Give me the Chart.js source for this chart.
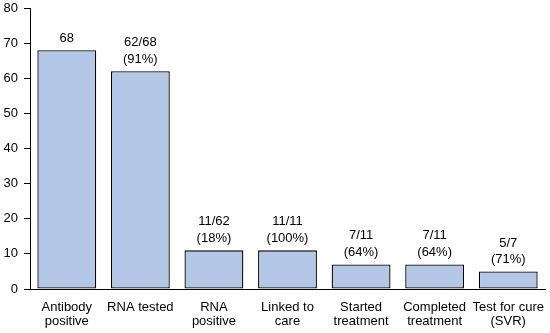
<!DOCTYPE html>
<html lang="en">
<head>
<meta charset="UTF-8">
<title>HCV cascade of care</title>
<style>
  html, body { margin: 0; padding: 0; background: #fff; }
  #wrap { width: 550px; height: 333px; position: relative; }
</style>
</head>
<body>
<div id="wrap"><canvas id="cascadeChart" width="550" height="333"></canvas></div>

<script src="https://cdn.jsdelivr.net/npm/chart.js"></script>
<script>
// data
var categories = [
    ['Antibody', 'positive'],
    'RNA tested',
    ['RNA', 'positive'],
    ['Linked to', 'care'],
    ['Started', 'treatment'],
    ['Completed', 'treatment'],
    ['Test for cure', '(SVR)']
];
var counts = [68, 62, 11, 11, 7, 7, 5];
var barLabels = [
    ['68'],
    ['62/68', '(91%)'],
    ['11/62', '(18%)'],
    ['11/11', '(100%)'],
    ['7/11', '(64%)'],
    ['7/11', '(64%)'],
    ['5/7', '(71%)']
];
var yTicks = [0, 10, 20, 30, 40, 50, 60, 70, 80];

var FONT = '"Liberation Sans", Arial, sans-serif';

// write the n/N (%) labels above each bar
var topLabels = {
    id: 'topLabels',
    afterDatasetsDraw: function(chart) {
        var ctx = chart.ctx;
        var meta = chart.getDatasetMeta(0);
        ctx.save();
        ctx.font = '13px ' + FONT;
        ctx.fillStyle = '#000';
        ctx.textAlign = 'center';
        ctx.textBaseline = 'middle';
        meta.data.forEach(function(bar, i) {
            var lines = barLabels[i];
            for (var k = 0; k < lines.length; k++) {
                var y = bar.y - 12 - (lines.length - 1 - k) * 16.5;
                ctx.fillText(lines[k], bar.x, y);
            }
        });
        ctx.restore();
    }
};

document.addEventListener('DOMContentLoaded', function() {
    var ctx = document.getElementById('cascadeChart').getContext('2d');
    new Chart(ctx, {
        type: 'bar',
        data: {
            labels: categories,
            datasets: [{
                data: counts,
                backgroundColor: '#b4c7e7',
                borderColor: '#000',
                borderWidth: 1.3,
                borderSkipped: false,
                categoryPercentage: 1,
                barPercentage: 0.8
            }]
        },
        options: {
            responsive: false,
            animation: false,
            devicePixelRatio: 1,
            layout: { padding: { top: 8, right: 5, left: 0, bottom: 0 } },
            plugins: {
                legend: { display: false },
                tooltip: { enabled: false }
            },
            scales: {
                x: {
                    grid: { display: true, drawOnChartArea: false, drawTicks: false },
                    border: { color: '#000', width: 1 },
                    ticks: {
                        color: '#000',
                        padding: 11,
                        maxRotation: 0,
                        autoSkip: false,
                        font: { family: FONT, size: 13, lineHeight: 1.1 }
                    },
                    afterFit: function(s) {
                        s.height = 44;
                        s.paddingLeft = 0;
                        s.paddingRight = 0;
                    }
                },
                y: {
                    min: 0,
                    max: 80,
                    afterBuildTicks: function(s) {
                        s.ticks = yTicks.map(function(v) { return { value: v }; });
                    },
                    grid: { display: true, drawOnChartArea: false, drawTicks: true, tickLength: 6, color: '#000' },
                    border: { color: '#000', width: 1 },
                    ticks: {
                        color: '#000',
                        padding: 6,
                        autoSkip: false,
                        font: { family: FONT, size: 13 }
                    },
                    afterFit: function(s) {
                        s.width = 30;
                        s.paddingTop = 0;
                        s.paddingBottom = 0;
                    }
                }
            }
        },
        plugins: [topLabels]
    });
});
</script>
</body>
</html>
